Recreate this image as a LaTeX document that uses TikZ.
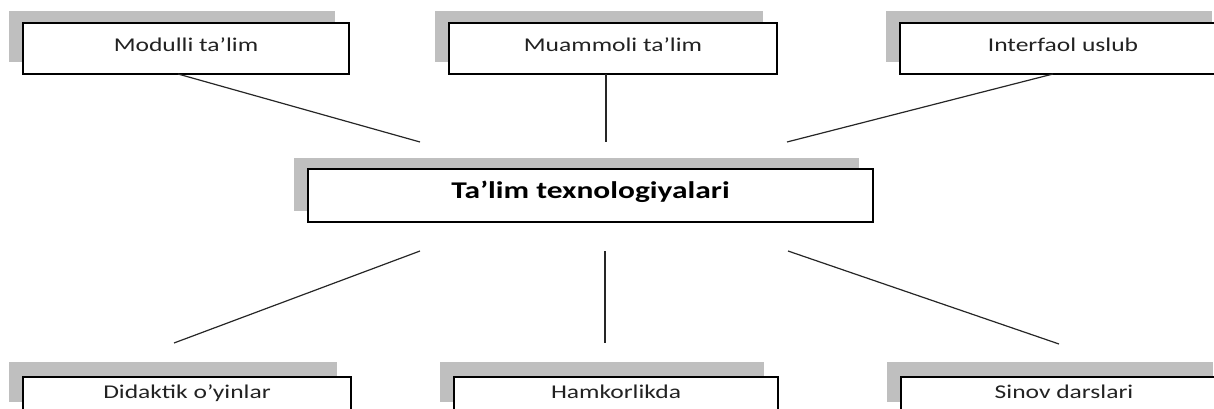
\documentclass[tikz,border=0pt]{standalone}
\usepackage{fontspec}
\setmainfont{Carlito}[FakeStretch=1.31]
\usetikzlibrary{shadows}
\definecolor{shadowgray}{HTML}{BFBFBF}
\definecolor{txt}{HTML}{222222}
\begin{document}
\begin{tikzpicture}[x=1pt,y=-1pt,
  tbox/.style={draw=black, line width=1.3pt, fill=white, inner sep=0pt, text=txt,
    minimum width=326pt, minimum height=51pt, text height=0.644em, text depth=0pt,
    font=\fontsize{19.5}{22}\selectfont,
    general shadow={fill=shadowgray, shadow xshift=-14pt, shadow yshift=11.5pt}},
  bbox/.style={tbox, minimum height=36pt,
    general shadow={fill=shadowgray, shadow xshift=-14pt, shadow yshift=15pt}},
  link/.style={draw=black!85, line width=1.2pt}]
\useasboundingbox (0,0) rectangle (1214,409);
\clip (0,0) rectangle (1214,409);
% top row
\node[tbox] (tl) at (186,48.5) {Modulli ta’lim};
\node[tbox, minimum width=328pt] (tm) at (613,48.5) {Muammoli ta’lim};
\node[tbox] (tr) at (1063,48.5) {Interfaol uslub};
% centre
\node[tbox, minimum width=565pt, minimum height=53pt, text=black, font=\fontsize{24}{27}\selectfont\bfseries] (ctr) at (590.5,195.5) {Ta’lim texnologiyalari};
% bottom row
\node[bbox, minimum width=328pt] (bl) at (187,395) {Didaktik o’yinlar};
\node[bbox, minimum width=324pt] (bm) at (616,395) {Hamkorlikda};
\node[bbox] (br) at (1064,395) {Sinov darslari};
% free ends of connectors
\coordinate (tls) at (178,74);
\coordinate (tle) at (420,142);
\coordinate (tms) at (606,74);
\coordinate (tme) at (606,142);
\coordinate (trs) at (1053,74);
\coordinate (tre) at (787,142);
\coordinate (bls) at (420,251);
\coordinate (ble) at (174,343);
\coordinate (bms) at (605,251);
\coordinate (bme) at (605,343);
\coordinate (brs) at (788,251);
\coordinate (bre) at (1059,344);
\draw[link] (tls) -- (tle);
\draw[link] (tms) -- (tme);
\draw[link] (trs) -- (tre);
\draw[link] (bls) -- (ble);
\draw[link] (bms) -- (bme);
\draw[link] (brs) -- (bre);
\end{tikzpicture}
\end{document}
